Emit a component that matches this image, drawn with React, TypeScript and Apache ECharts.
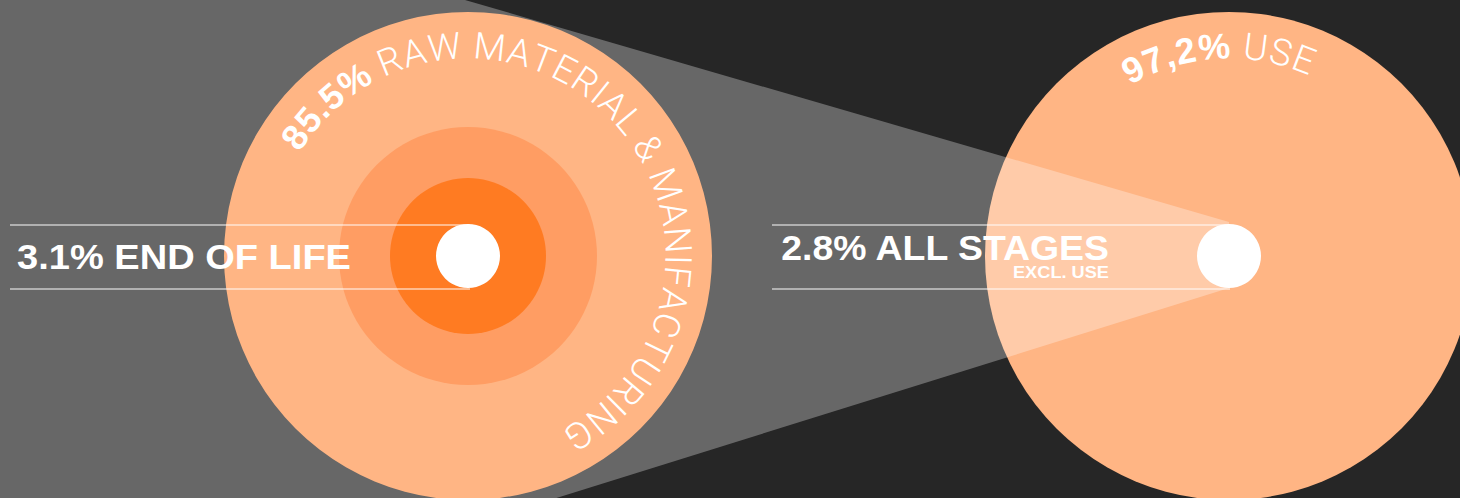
import React, { useEffect, useRef } from 'react';
import * as echarts from 'echarts';

// ---- data ----
const rawValueText = '85.5%';
const rawLabel = 'RAW MATERIAL & MANIFACTURING';
const useValueText = '97,2%';
const useLabel = 'USE';
const eolValueText = '3.1%';
const eolLabel = 'END OF LIFE';
const allValueText = '2.8%';
const allLabel = 'ALL STAGES';
const allSubLabel = 'EXCL. USE';

// ---- layout / style ----
const W = 1460;
const H = 498;
const LEFT = { cx: 468, cy: 256 };
const RIGHT = { cx: 1229, cy: 256 };
const leftRings = [
  { r: 244, color: '#FFB584' },
  { r: 129, color: '#FF9D63' },
  { r: 78, color: '#FF7B22' },
  { r: 32, color: '#FFFFFF' },
];
const BOLD = '"Liberation Sans", Arial, sans-serif';
const LIGHT = 'Roboto, "Liberation Sans", sans-serif';

type Part = { text: string; font: string };

function measure(text: string, font: string): number {
  const ctx = document.createElement('canvas').getContext('2d')!;
  ctx.font = font;
  return ctx.measureText(text).width;
}

function arcText(
  cx: number,
  cy: number,
  rBase: number,
  rText: number,
  startDeg: number,
  endDeg: number,
  parts: Part[],
  z: number
): any[] {
  const chars: { ch: string; w: number; font: string }[] = [];
  for (const p of parts) {
    for (const ch of p.text) {
      chars.push({ ch, w: measure(ch, p.font), font: p.font });
    }
  }
  const total = chars.reduce((a, c) => a + c.w, 0);
  const start = (startDeg * Math.PI) / 180;
  const target = (((endDeg - startDeg) * Math.PI) / 180) * rBase;
  const k = target / total;
  let acc = 0;
  const out: any[] = [];
  for (const c of chars) {
    const s = (acc + c.w / 2) * k;
    acc += c.w;
    if (c.ch === ' ') continue;
    const th = start + s / rBase;
    out.push({
      type: 'text',
      z,
      x: cx + rText * Math.cos(th),
      y: cy + rText * Math.sin(th),
      rotation: -(th + Math.PI / 2),
      silent: true,
      style: {
        text: c.ch,
        font: c.font,
        fill: '#FFFFFF',
        textAlign: 'center',
        textVerticalAlign: 'middle',
        verticalAlign: 'middle',
      },
    });
  }
  return out;
}

function fittedText(
  text: string,
  font: string,
  x: number,
  y: number,
  align: 'left' | 'right',
  targetWidth: number,
  lineHeight: number,
  z: number
) {
  const w = measure(text, font);
  return {
    type: 'text',
    z,
    x,
    y,
    scaleX: targetWidth / w,
    silent: true,
    style: {
      text,
      font,
      fill: '#FFFFFF',
      textAlign: align,
      textVerticalAlign: 'middle',
      verticalAlign: 'middle',
      lineHeight,
    },
  };
}

export default function App() {
  const ref = useRef<HTMLDivElement>(null);

  useEffect(() => {
    if (!ref.current) return;
    const chart = echarts.init(ref.current, undefined, { renderer: 'svg' });

    const elements: any[] = [];
    let z = 1;

    // right circle (drawn under the light cone)
    elements.push({
      type: 'circle',
      z: z++,
      shape: { cx: RIGHT.cx, cy: RIGHT.cy, r: 244 },
      style: { fill: '#FFB584' },
    });

    // light cone
    elements.push({
      type: 'polygon',
      z: z++,
      shape: {
        points: [
          [0, 0],
          [465, 0],
          [RIGHT.cx, 222],
          [RIGHT.cx, 288],
          [486, 520],
          [0, 520],
        ],
      },
      style: { fill: 'rgba(255,255,255,0.3)' },
    });

    // left concentric circles
    for (const ring of leftRings) {
      elements.push({
        type: 'circle',
        z: z++,
        shape: { cx: LEFT.cx, cy: LEFT.cy, r: ring.r },
        style: { fill: ring.color },
      });
    }

    // guide lines
    const lineStyle = { stroke: 'rgba(255,255,255,0.65)', lineWidth: 1.5 };
    for (const y of [225, 289]) {
      elements.push({
        type: 'line',
        z: z++,
        shape: { x1: 10, y1: y, x2: 470, y2: y },
        style: lineStyle,
      });
      elements.push({
        type: 'line',
        z: z++,
        shape: { x1: 772, y1: y, x2: 1230, y2: y },
        style: lineStyle,
      });
    }

    // right white dot
    elements.push({
      type: 'circle',
      z: z++,
      shape: { cx: RIGHT.cx, cy: RIGHT.cy, r: 32 },
      style: { fill: '#FFFFFF' },
    });

    // straight labels
    elements.push(
      fittedText(`${eolValueText} ${eolLabel}`, `bold 36px ${BOLD}`, 17, 256, 'left', 334, 28, z++)
    );
    elements.push(
      fittedText(`${allValueText} ${allLabel}`, `bold 35px ${BOLD}`, 1109, 248, 'right', 330, 27, z++)
    );
    elements.push(
      fittedText(allSubLabel, `bold 16px ${BOLD}`, 1109, 272, 'right', 96, 12, z++)
    );

    // curved labels
    const tz = z++;
    elements.push(
      ...arcText(
        LEFT.cx,
        LEFT.cy,
        198,
        210,
        211.5,
        422,
        [
          { text: rawValueText, font: `bold 36px ${BOLD}` },
          { text: ' ' + rawLabel, font: `300 37px ${LIGHT}` },
        ],
        tz
      )
    );
    elements.push(
      ...arcText(
        RIGHT.cx,
        RIGHT.cy,
        198,
        210,
        -120.3,
        -65.9,
        [
          { text: useValueText, font: `bold 36px ${BOLD}` },
          { text: ' ' + useLabel, font: `300 37px ${LIGHT}` },
        ],
        tz
      )
    );

    chart.setOption({
      animation: false,
      backgroundColor: '#262626',
      graphic: { elements },
    });

    return () => chart.dispose();
  }, []);

  return (
    <div
      ref={ref}
      style={{ position: 'fixed', left: 0, top: 0, width: W, height: H }}
    />
  );
}
